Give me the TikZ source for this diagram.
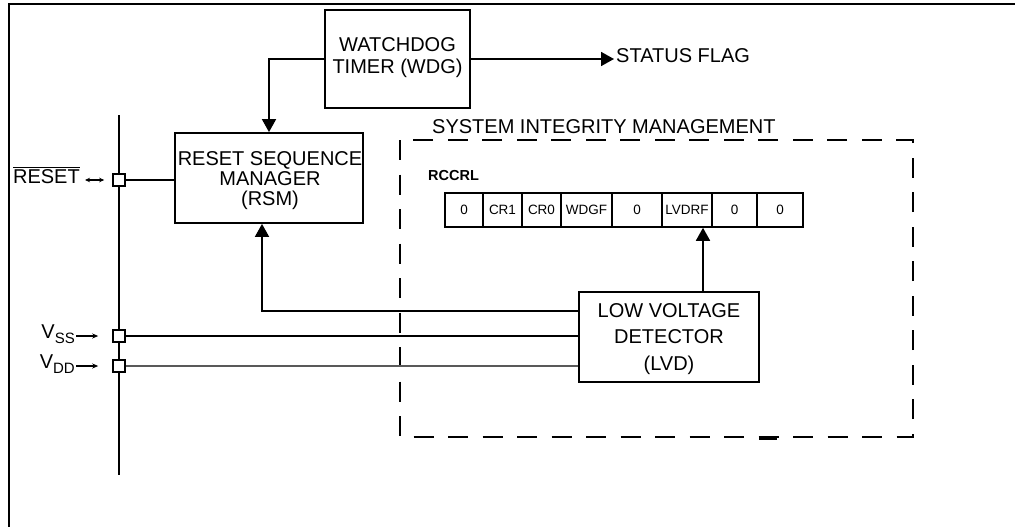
\documentclass[tikz,border=0pt]{standalone}
\usepackage{fontspec}
\setmainfont{Liberation Sans}
\usetikzlibrary{arrows.meta}

\begin{document}
\begin{tikzpicture}[x=1pt, y=-1pt, font=\fontsize{20}{20}\selectfont,
        box/.style={draw, line width=1.8pt, align=center, inner sep=0pt},
        pad/.style={draw, fill=white, line width=1.6pt, minimum size=12pt, inner sep=0pt},
        bit/.style={draw, line width=1.6pt, minimum height=34pt, inner sep=0pt, font=\fontsize{13.5}{14}\selectfont},
        wire/.style={line width=1.8pt},
        sig/.style={wire, -{Triangle[length=13pt, width=14pt]}},
        feed/.style={line width=1.2pt, -{Stealth[length=6pt, width=5pt]}},
        bothway/.style={line width=1.2pt, {Stealth[length=5pt, width=4.5pt]}-{Stealth[length=5pt, width=4.5pt]}}]
        \useasboundingbox (0, 0) rectangle (1015, 527);
        \draw[line width=2.5pt] (9, 527) -- (9, 4) -- (1015, 4);

        \node[box, minimum width=145pt, minimum height=98pt] (wdg) at (397.5, 59) {};
        \node[align=center, font=\fontsize{20}{22}\selectfont] (wdgtext) at (397.5, 58) {WATCHDOG\\TIMER (WDG)};
        \node[box, minimum width=188pt, minimum height=90pt] (rsm) at (269, 178) {};
        \node[align=center] (rsmtext) at (270, 181) {RESET SEQUENCE\\MANAGER\\(RSM)};
        \node[box, minimum width=180pt, minimum height=90pt, font=\fontsize{20}{26.5}\selectfont] (lvd) at (669, 337) {};
        \node[align=center, font=\fontsize{20}{26.5}\selectfont] (lvdtext) at (669, 339) {LOW VOLTAGE\\DETECTOR\\(LVD)};
        \node[anchor=west, inner sep=2pt] (flag) at (614, 56) {STATUS FLAG};

        \draw[dash pattern=on 20pt off 14.5pt, line width=1.8pt] (400, 140) rectangle (913, 437);
        \draw[line width=1.8pt] (759, 439) -- (777, 439);
        \node[anchor=west, inner sep=2pt] (sim) at (430, 127) {SYSTEM INTEGRITY MANAGEMENT};
        \node[anchor=west, inner sep=2pt, font=\fontsize{14.5}{16}\selectfont\bfseries] (rccrl) at (426, 176) {RCCRL};

        \node[bit, minimum width=38pt] (b7) at (464, 210) {0};
        \node[bit, minimum width=39pt] (b6) at (502.5, 210) {CR1};
        \node[bit, minimum width=39pt] (b5) at (541.5, 210) {CR0};
        \node[bit, minimum width=51pt] (b4) at (586.5, 210) {WDGF};
        \node[bit, minimum width=50pt] (b3) at (637, 210) {0};
        \node[bit, minimum width=50pt] (b2) at (687, 210) {LVDRF};
        \node[bit, minimum width=45pt] (b1) at (734.5, 210) {0};
        \node[bit, minimum width=46pt] (b0) at (780, 210) {0};

        \coordinate (bustop) at (119, 115);
        \coordinate (busbot) at (119, 475);
        \draw[wire] (bustop) -- (busbot);
        \node[pad] (prst) at (119, 180) {};
        \node[pad] (pvss) at (119, 336) {};
        \node[pad] (pvdd) at (119, 366) {};

        \node[anchor=base east, inner sep=1pt] (lrst) at (81, 183) {$\overline{\mbox{RESET}}$};
        \node[anchor=base east, inner sep=1pt] (lvss) at (76, 338) {V\raisebox{-5pt}{\fontsize{15}{15}\selectfont SS}};
        \node[anchor=base east, inner sep=1pt] (lvdd) at (76, 368) {V\raisebox{-5pt}{\fontsize{15}{15}\selectfont DD}};

        \draw[sig] (wdg.west) -| (rsm.north);
        \draw[sig] (wdg.east) -- (wdg.east -| flag.west);
        \draw[sig] ([yshift=26pt]lvd.west) -| ([xshift=-7pt]rsm.south);
        \draw[sig] ([xshift=34pt]lvd.north) -- ([xshift=34pt]lvd.north |- b2.south);
        \draw[wire] (prst) -- (prst -| rsm.west);
        \draw[wire] (pvss) -- (pvss -| lvd.west);
        \draw[line width=1.2pt, black!65] (pvdd) -- (pvdd -| lvd.west);

        \draw[bothway] ([xshift=4pt]lrst.east |- prst) -- ([xshift=-8pt]prst.west);
        \draw[feed] (lvss.east |- pvss) -- ([xshift=-14pt]pvss.west);
        \draw[feed] (lvdd.east |- pvdd) -- ([xshift=-14pt]pvdd.west);
\end{tikzpicture}
\end{document}
